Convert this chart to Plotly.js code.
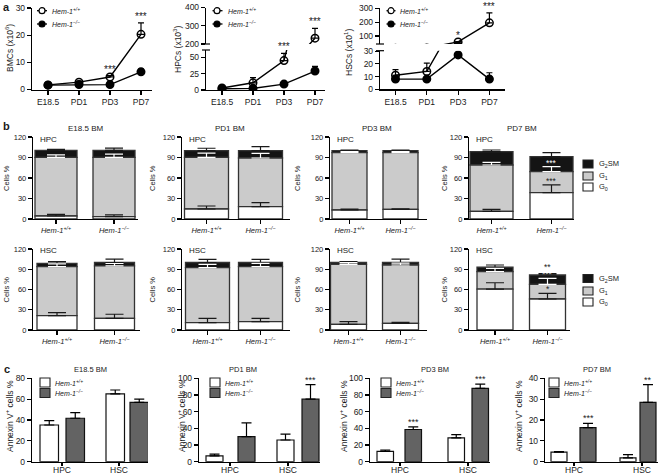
<!DOCTYPE html>
<html><head><meta charset="utf-8">
<script src="https://cdn.plot.ly/plotly-3.0.1.min.js"></script>
<style>html,body{margin:0;padding:0;background:#fff}#chart{width:668px;height:474px}</style>
</head><body><div id="chart"></div>
<script>
// ================= DATA =================
const timepoints = ['E18.5', 'PD1', 'PD3', 'PD7'];
const genoNames = ['Hem-1+/+', 'Hem-1-/-'];
const genoLabels = ['<i>Hem-1<sup>+/+</sup></i>', '<i>Hem-1<sup>\u2212/\u2212</sup></i>'];

// ---- panel a : cell numbers ----
const bmcWT = [1.7, 2.7, 4.6, 20.3];
const bmcWTerr = [0.3, 0.4, 0.5, 4.2];
const bmcKO = [1.6, 1.8, 1.8, 6.5];
const bmcKOerr = [0.2, 0.2, 0.2, 1.0];
const bmcSig = ['', '', '***', '***'];

const hpcWT = [3, 11, 45, 232];
const hpcWTerr = [1.5, 8, 11, 54];
const hpcKO = [2, 2.5, 9, 29];
const hpcKOerr = [0.5, 0.8, 2, 7];
const hpcSig = ['', '', '***', '***'];

const hscWT = [11, 14, 57, 195];
const hscWTerr = [4.5, 6.5, 3, 72];
const hscKO = [8, 8, 27, 8];
const hscKOerr = [1, 1, 1.5, 5];
const hscSig = ['', '', '*', '***'];

// ---- panel b : cell cycle, [timepoint][WT, KO] ----
const bTitles = ['E18.5 BM', 'PD1 BM', 'PD3 BM', 'PD7 BM'];
const phaseNames = ['G<sub>0</sub>', 'G<sub>1</sub>', 'G<sub>2</sub>SM'];

const hpcG0 = [[4.4, 3.4], [14.6, 18], [13.2, 14], [11.2, 38.5]];
const hpcG0err = [[2.4, 2.5], [4.4, 6], [1.4, 1], [3, 11.3]];
const hpcG1 = [[85.9, 86.9], [75.7, 71.3], [83.8, 83], [67.8, 30.8]];
const hpcG1err = [[3.4, 4.7], [6, 6.7], [1.5, 1.5], [4, 7.3]];
const hpcG2 = [[10, 10], [9.7, 10.7], [3, 3], [19.5, 21.9]];
const hpcG2err = [[1.6, 3.5], [3.5, 6], [1, 1], [2.5, 5.8]];
const hpcG0sig = [['', ''], ['', ''], ['', ''], ['', '***']];
const hpcG1sig = [['', ''], ['', ''], ['', ''], ['', '***']];
const hpcG2sig = [['', ''], ['', ''], ['', ''], ['', '']];

const hscG0 = [[21.2, 17.3], [10.9, 12.3], [8.4, 9.9], [60.7, 45.9]];
const hscG0err = [[4.5, 6], [6.4, 5], [3.9, 1.5], [9.3, 8.4]];
const hscG1 = [[72.8, 77.7], [81.4, 81.5], [88.9, 86.4], [25.7, 21.8]];
const hscG1err = [[4, 3.5], [5, 5], [2.5, 2.7], [5, 8.9]];
const hscG2 = [[4.8, 5], [7.7, 6.2], [2.7, 3.7], [6.6, 13.8]];
const hscG2err = [[2.5, 5], [4.7, 4.5], [1.5, 5], [3.3, 2]];
const hscG0sig = [['', ''], ['', ''], ['', ''], ['', '*']];
const hscG1sig = [['', ''], ['', ''], ['', ''], ['', '***']];
const hscG2sig = [['', ''], ['', ''], ['', ''], ['', '**']];

// ---- panel c : Annexin V+ cells %, [timepoint][HPC, HSC] ----
const cCats = ['HPC', 'HSC'];
const annWT = [[35.2, 65], [7, 26], [12.3, 28.6], [4.6, 1.8]];
const annWTerr = [[4.2, 3.8], [2, 7], [1.7, 3.9], [0.3, 1.6]];
const annKO = [[41.7, 57], [30, 75], [38.6, 88], [16.3, 28.5]];
const annKOerr = [[5.3, 3], [16.6, 17.5], [3.1, 5], [2.1, 8.5]];
const annSig = [['', ''], ['', '***'], ['***', '***'], ['***', '**']];

// ================= HELPERS =================
const W = 668, H = 474;
const FONT = 'Liberation Sans, Arial, Helvetica, sans-serif';
const TXT = '#1a1a1a';
const fx = p => p / W;
const fy = p => 1 - p / H;
const dx = (a, b) => [fx(a), fx(b)];
const dy = (top, bottom) => [fy(bottom), fy(top)];

const layout = {
  width: W, height: H, margin: {l: 0, r: 0, t: 0, b: 0},
  paper_bgcolor: '#ffffff', plot_bgcolor: 'rgba(0,0,0,0)',
  showlegend: false, barmode: 'group', hovermode: false,
  font: {family: FONT, size: 8, color: TXT},
  annotations: [], shapes: []
};
const data = [];
let xi = 0, yi = 0;
const aid = (l, n) => l + 'axis' + (n === 1 ? '' : n);
const rid = (l, n) => l + (n === 1 ? '' : n);

function axisBase(extra, fs) {
  return Object.assign({
    showline: true, linecolor: '#000', linewidth: 1.2,
    ticks: 'outside', ticklen: 4, tickwidth: 1.1, tickcolor: '#000',
    showgrid: false, zeroline: false, fixedrange: true,
    tickfont: {family: FONT, size: fs || 8, color: TXT}
  }, extra);
}
function ann(o, fs, extraFont) {
  layout.annotations.push(Object.assign({showarrow: false},
    o, {font: Object.assign({family: FONT, size: fs || 8, color: TXT}, extraFont || {})}));
}
function paperText(text, x, y, fs, opts) {
  ann(Object.assign({xref: 'paper', yref: 'paper', x: fx(x), y: fy(y), text: text,
    xanchor: 'center', yanchor: 'middle'}, opts || {}), fs);
}
function rect(x0, x1, y0, y1, fill) {
  layout.shapes.push({type: 'rect', xref: 'paper', yref: 'paper', x0: fx(x0), x1: fx(x1),
    y0: fy(y1), y1: fy(y0), fillcolor: fill, line: {color: '#222', width: 1.1}});
}
function pline(x0, x1, y0, y1, w) {
  layout.shapes.push({type: 'line', xref: 'paper', yref: 'paper', x0: fx(x0), x1: fx(x1),
    y0: fy(y0), y1: fy(y1), line: {color: '#000', width: w || 1.2}});
}
function circ(cx, cy, r, fill) {
  layout.shapes.push({type: 'circle', xref: 'paper', yref: 'paper', x0: fx(cx - r), x1: fx(cx + r),
    y0: fy(cy + r), y1: fy(cy - r), fillcolor: fill, line: {color: '#000', width: 1.2}});
}
const upErr = (arr, color, width) => ({type: 'data', symmetric: false, array: arr,
  arrayminus: arr.map(() => 0), color: color || '#000', thickness: 1.2, width: width || 3});

// ================= PANEL a =================
function lineChart(g, wt, wtE, ko, koE, sig, ytitle) {
  xi += 1; const xn = xi; const xr = rid('x', xn);
  const s = g.spacing;
  const yns = g.segments.map(() => { yi += 1; return yi; });
  layout[aid('x', xn)] = axisBase({domain: dx(g.ax, g.end), anchor: rid('y', yns[0]),
    type: 'category', categoryorder: 'array', categoryarray: timepoints,
    range: [(g.ax - g.c0) / s, (g.end - g.c0) / s]}, 8.5);
  g.segments.forEach((sg, k) => {
    const yr = rid('y', yns[k]);
    layout[aid('y', yns[k])] = axisBase({domain: dy(sg.top, sg.bottom), anchor: xr,
      range: sg.range, tickvals: sg.tickvals}, 8.5);
    [[wt, wtE, 'circle-open'], [ko, koE, 'circle']].forEach(([v, e, sym]) => {
      data.push({type: 'scatter', mode: 'lines+markers', x: timepoints, y: v,
        xaxis: xr, yaxis: yr, cliponaxis: g.segments.length === 1 ? false : true,
        line: {color: '#000', width: 1.4},
        marker: {symbol: sym, size: 7.5, color: '#000', line: {color: '#000', width: 1.5}},
        error_y: upErr(e, '#000', 3)});
    });
  });
  sig.forEach((t, i) => {
    if (!t) return;
    const top = Math.max(wt[i] + wtE[i], ko[i] + koE[i]);
    let k = 0;
    if (g.segments.length > 1 && top > g.segments[0].range[1]) k = 1;
    ann({xref: xr, yref: rid('y', yns[k]), x: i, y: top, yanchor: 'bottom', xanchor: 'center',
      text: t, yshift: -1}, 10);
  });
  paperText(ytitle, g.tx, g.ty, 8.5, {textangle: -90});
  const L = g.leg;
  [[L.y0, 'rgba(255,255,255,1)', genoLabels[0]], [L.y1, '#000', genoLabels[1]]].forEach(([yy, fill, lab]) => {
    pline(L.lx0, L.lx1, yy, yy, 1.3);
    circ(L.mx, yy, 3, fill);
    paperText(lab, L.tx, yy, 7, {xanchor: 'left'});
  });
  (g.breaks || []).forEach(by => pline(g.ax - 4, g.ax + 4, by, by, 1.2));
}

lineChart({ax: 32, end: 152, c0: 48, spacing: 31,
  segments: [{top: 8, bottom: 89.5, range: [0, 30], tickvals: [0, 10, 20, 30]}],
  tx: 10, ty: 48, leg: {lx0: 37, lx1: 47, mx: 42, tx: 50, y0: 10.7, y1: 24}},
  bmcWT, bmcWTerr, bmcKO, bmcKOerr, bmcSig, 'BMCs (x10<sup>6</sup>)');

lineChart({ax: 206, end: 325, c0: 222, spacing: 31,
  segments: [{top: 50, bottom: 90, range: [0, 61.2], tickvals: [0, 25, 50]},
             {top: 7.5, bottom: 44, range: [200, 400], tickvals: [200, 300, 400]}],
  tx: 177, ty: 50, breaks: [44, 50], leg: {lx0: 212.5, lx1: 222.5, mx: 217, tx: 226, y0: 10.7, y1: 24}},
  hpcWT, hpcWTerr, hpcKO, hpcKOerr, hpcSig, 'HPCs (x10<sup>3</sup>)');

lineChart({ax: 380, end: 505, c0: 395.5, spacing: 31.3,
  segments: [{top: 50.7, bottom: 89.3, range: [0, 30.3], tickvals: [0, 10, 20, 30]},
             {top: 8, bottom: 44, range: [42, 302], tickvals: [100, 200, 300]}],
  tx: 349, ty: 53, breaks: [44, 50.7], leg: {lx0: 386.5, lx1: 395.5, mx: 391, tx: 398, y0: 10.7, y1: 24}},
  hscWT, hscWTerr, hscKO, hscKOerr, hscSig, 'HSCs (x10<sup>1</sup>)');

// ================= PANEL b =================
const bRows = [
  {top: 137, bottom: 219, label: 'HPC', labelY: 139.5,
   g0: hpcG0, g0e: hpcG0err, g1: hpcG1, g1e: hpcG1err, g2: hpcG2, g2e: hpcG2err,
   s0: hpcG0sig, s1: hpcG1sig, s2: hpcG2sig, legY: [164, 176, 187],
   geom: [{ax: 33, end: 138, c: [56, 114], bw: 42}, {ax: 182, end: 290, c: [206.5, 260.5], bw: 44},
          {ax: 330, end: 427, c: [349.5, 400.5], bw: 35}, {ax: 469, end: 574, c: [491.5, 551.5], bw: 43}]},
  {top: 249, bottom: 330, label: 'HSC', labelY: 250,
   g0: hscG0, g0e: hscG0err, g1: hscG1, g1e: hscG1err, g2: hscG2, g2e: hscG2err,
   s0: hscG0sig, s1: hscG1sig, s2: hscG2sig, legY: [278.5, 291, 302],
   geom: [{ax: 33, end: 140, c: [57, 114.5], bw: 40}, {ax: 182, end: 290, c: [207.5, 260.5], bw: 44},
          {ax: 330, end: 427, c: [348.5, 400.5], bw: 36}, {ax: 469, end: 570, c: [495, 547.5], bw: 36}]}
];
const bTitleX = [85, 230, 377, 522];
const bYTitleX = [6, 152, 297, 444];
const phaseFill = ['#ffffff', '#cbcbcb', '#141414'];
const phaseErr = ['#1a1a1a', '#ffffff', '#1a1a1a'];
const phaseStar = ['#1a1a1a', '#ffffff', '#1a1a1a'];
const phaseStarShift = [-3, -3, 0];

bRows.forEach((row, r) => {
  row.geom.forEach((g, t) => {
    xi += 1; yi += 1;
    const xr = rid('x', xi), yr = rid('y', yi);
    const s = g.c[1] - g.c[0];
    layout[aid('x', xi)] = axisBase({domain: dx(g.ax, g.end), anchor: yr, type: 'category',
      categoryorder: 'array', categoryarray: genoNames, range: [(g.ax - g.c[0]) / s, (g.end - g.c[0]) / s],
      tickvals: genoNames, ticktext: genoLabels}, 7.5);
    layout[aid('y', yi)] = axisBase({domain: dy(row.top, row.bottom), anchor: xr,
      range: [0, 120], tickvals: [0, 30, 60, 90, 120]}, 7.5);
    const segs = [row.g0[t], row.g1[t], row.g2[t]];
    const errs = [row.g0e[t], row.g1e[t], row.g2e[t]];
    const sigs = [row.s0[t], row.s1[t], row.s2[t]];
    const bases = [[0, 0], segs[0].slice(), segs[0].map((v, j) => v + segs[1][j])];
    [2, 1, 0].forEach(p => {
      data.push({type: 'bar', x: genoNames, y: segs[p], base: bases[p], width: g.bw / s,
        offsetgroup: 'stack', xaxis: xr, yaxis: yr, name: phaseNames[p],
        marker: {color: phaseFill[p], line: {color: '#333', width: 1.3}},
        error_y: upErr(errs[p], phaseErr[p], 9)});
    });
    [0, 1, 2].forEach(p => {
      sigs[p].forEach((txt, j) => {
        if (!txt) return;
        ann({xref: xr, yref: yr, x: j, y: bases[p][j] + segs[p][j] + errs[p][j],
          yanchor: 'bottom', xanchor: 'center', text: txt, yshift: phaseStarShift[p]}, 8.5, {color: phaseStar[p]});
      });
    });
    paperText(row.label, g.ax + 5, row.labelY, 8, {xanchor: 'left'});
    paperText('Cells %', bYTitleX[t], (row.top + row.bottom) / 2, 7.5, {textangle: -90});
    if (r === 0) paperText(bTitles[t], bTitleX[t], 128, 8);
  });
  [2, 1, 0].forEach((p, k) => {
    const yc = row.legY[k];
    rect(583, 593, yc - 4, yc + 4, phaseFill[p]);
    paperText(phaseNames[p], 597, yc, 7.5, {xanchor: 'left'});
  });
});

// ================= PANEL c =================
const cGeom = [
  {ax: 32, end: 148, lab: [62, 119], wt: [-22, -13], ko: [4, 11], bw: 18.5, max: 80, dt: 20, title: 'E18.5 BM', tx: 90, legX: 40, ytx: 9},
  {ax: 199, end: 320, lab: [230, 288], wt: [-24, -11], ko: [8, 14], bw: 17, max: 100, dt: 20, title: 'PD1 BM', tx: 243, legX: 210, ytx: 181},
  {ax: 370, end: 490, lab: [400, 468], wt: [-23, -20], ko: [5, 4], bw: 16.5, max: 100, dt: 20, title: 'PD3 BM', tx: 435, legX: 381, ytx: 343},
  {ax: 545, end: 658, lab: [574, 642], wt: [-23, -22], ko: [6, -2], bw: 16, max: 40, dt: 10, title: 'PD7 BM', tx: 597, legX: 549, ytx: 518}
];
const cTop = 378.3, cBot = 461.7;

cGeom.forEach((g, t) => {
  xi += 1; yi += 1;
  const xr = rid('x', xi), yr = rid('y', yi);
  const s = g.lab[1] - g.lab[0];
  layout[aid('x', xi)] = axisBase({domain: dx(g.ax, g.end), anchor: yr, type: 'category',
    categoryorder: 'array', categoryarray: cCats, range: [(g.ax - g.lab[0]) / s, (g.end - g.lab[0]) / s],
    ticklen: 3, ticklabelstandoff: -3}, 8.5);
  const tv = [];
  for (let v = 0; v <= g.max; v += g.dt) tv.push(v);
  layout[aid('y', yi)] = axisBase({domain: dy(cTop, cBot), anchor: xr, range: [0, g.max], tickvals: tv}, 8.5);
  const wOff = g.wt.map(v => v / s), kOff = g.ko.map(v => v / s);
  data.push({type: 'bar', x: cCats, y: annWT[t], xaxis: xr, yaxis: yr, width: g.bw / s, offset: wOff,
    name: genoNames[0], marker: {color: '#ffffff', line: {color: '#111', width: 1.2}},
    error_y: upErr(annWTerr[t], '#000', 5)});
  data.push({type: 'bar', x: cCats, y: annKO[t], xaxis: xr, yaxis: yr, width: g.bw / s, offset: kOff,
    name: genoNames[1], marker: {color: '#636363', line: {color: '#111', width: 1.2}},
    error_y: upErr(annKOerr[t], '#000', 5)});
  annSig[t].forEach((txt, j) => {
    if (!txt) return;
    ann({xref: xr, yref: yr, x: j + kOff[j] + g.bw / s / 2, y: annKO[t][j] + annKOerr[t][j],
      yanchor: 'bottom', xanchor: 'center', text: txt, yshift: -2}, 9);
  });
  paperText(g.title, g.tx, 369, 7.5);
  paperText('Annexin V<sup>+</sup> cells %', g.ytx, 416, 8.5, {textangle: -90});
  rect(g.legX, g.legX + 10, 378, 387, '#ffffff');
  rect(g.legX, g.legX + 10, 388.5, 397.5, '#636363');
  paperText(genoLabels[0], g.legX + 13, 382.5, 7, {xanchor: 'left'});
  paperText(genoLabels[1], g.legX + 13, 393, 7, {xanchor: 'left'});
});

// panel letters
paperText('<b>a</b>', 1, 7, 11, {xanchor: 'left'});
paperText('<b>b</b>', 1, 126, 11, {xanchor: 'left'});
paperText('<b>c</b>', 2, 369, 11, {xanchor: 'left'});

Plotly.newPlot('chart', data, layout, {staticPlot: true, displayModeBar: false});
</script>
</body></html>
